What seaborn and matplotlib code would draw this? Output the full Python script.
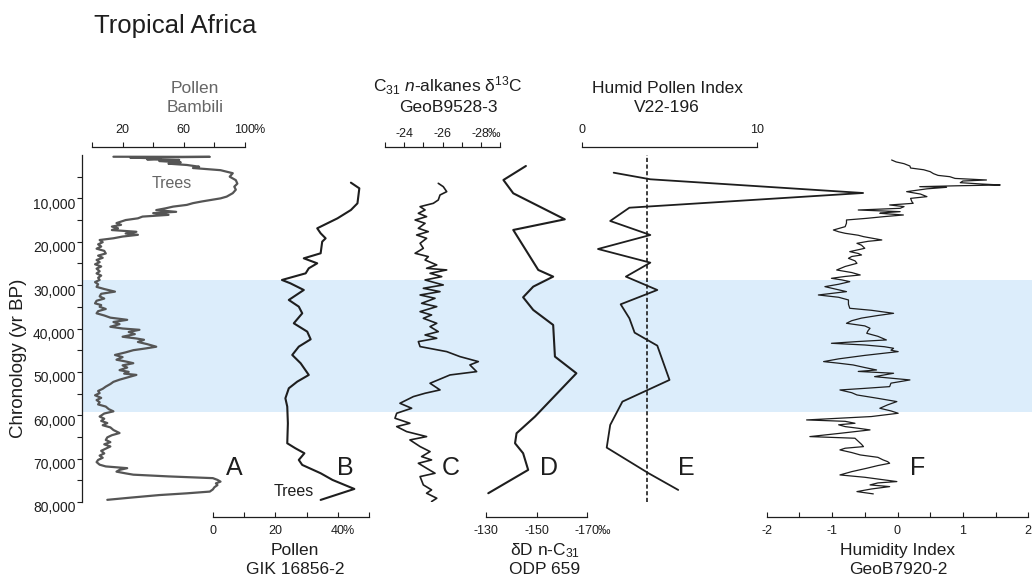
import numpy as np
import matplotlib
matplotlib.use("Agg")
import matplotlib.pyplot as plt
import seaborn as sns
from matplotlib.transforms import ScaledTranslation

# ---- data (ages in yr BP) ----
band_start, band_end = 28800, 59200

a_age = [400, 430, 600, 800, 1000, 1150, 1400, 1700, 2000, 2300,
         2700, 3000, 3500, 4200, 5000, 5800, 6600, 7300, 8000, 8800,
         9600, 10000, 10700, 11100, 11500, 11900, 12300, 12700, 13100, 13400,
         13800, 14200, 14600, 15000, 15700, 16100, 16500, 16900, 17300, 17700,
         18100, 18400, 18800, 19200, 19600, 20100, 20600, 21100, 21600, 22100,
         22700, 23200, 23700, 24200, 24700, 25200, 25700, 26200, 26800, 27300,
         27800, 28300, 28800, 29300, 29800, 30400, 30900, 31500, 32000, 32600,
         33100, 33600, 34200, 34600, 35000, 35500, 36000, 36500, 37000, 37500,
         38000, 38500, 39000, 39600, 40000, 40300, 40800, 41300, 41900, 42300,
         42600, 43100, 43600, 44200, 44600, 45000, 45500, 46100, 46600, 47200,
         47600, 48000, 48500, 49000, 49600, 50000, 50400, 50700, 51200, 51800,
         52300, 52800, 53400, 53900, 54400, 54900, 55400, 56000, 56500, 57000,
         57500, 58000, 58600, 59100, 59600, 60300, 60800, 61300, 61800, 62300,
         62800, 63400, 64100, 64600, 65100, 65700, 66200, 66700, 67200, 67700,
         68200, 68800, 69300, 69800, 70300, 70800, 71400, 71800, 72200, 72600,
         73000, 73400, 73700, 74100, 74500, 74900, 75300, 75700, 76100, 76600,
         77100, 77600, 78000, 78400, 79000, 79500]
a_trees = [14, 77, 25, 45, 36, 57, 44, 58, 50, 62,
           70, 66, 84, 92, 90, 94, 95, 93, 94, 92,
           88, 84, 72, 66, 62, 53, 48, 42, 55, 40,
           50, 33, 30, 22, 16, 19, 13, 17, 13, 29,
           22, 30, 20, 14, 5, 7, 4, 6, 3, 8,
           9, 4, 7, 3, 5, 2, 6, 3, 5, 3,
           6, 4, 5, 2, 4, 3, 8, 15, 6, 5,
           8, 3, 2, 6, 5, 9, 4, 3, 8, 12,
           23, 14, 18, 12, 20, 31, 24, 28, 20, 29,
           34, 30, 36, 42, 35, 27, 22, 15, 20, 16,
           22, 27, 20, 23, 18, 24, 21, 29, 24, 18,
           14, 12, 9, 7, 4, 5, 2, 6, 3, 5,
           4, 9, 11, 14, 8, 5, 8, 6, 10, 7,
           12, 14, 18, 13, 10, 9, 12, 8, 12, 9,
           6, 8, 5, 7, 4, 3, 5, 9, 23, 18,
           16, 22, 27, 50, 79, 82, 84, 81, 82, 80,
           79, 77, 62, 44, 25, 10]

b_age = [6377, 7683, 11140, 12680, 14600, 16900, 18050, 19210, 19980, 22660,
         23820, 24970, 26120, 27280, 28810, 29580, 31120, 33420, 34960, 36500,
         38800, 40720, 42490, 44180, 46100, 48020, 50710, 52250, 53780, 56090,
         58010, 61850, 66460, 67610, 68760, 70300, 71450, 73370, 74910, 76990,
         79520]
b_trees = [44.2, 46.9, 46.3, 44.2, 39.9, 33.4, 34.5, 36.1, 35.0, 34.5,
           29.1, 33.4, 30.7, 29.7, 22.1, 24.8, 29.1, 24.3, 27.5, 28.6,
           25.9, 30.2, 31.3, 27.5, 25.4, 28.1, 30.7, 27.0, 24.3, 23.2,
           23.8, 24.0, 23.8, 26.4, 29.3, 27.5, 28.6, 34.5, 38.3, 45.3,
           34.5]

c_age = [6530, 7300, 8450, 9220, 10370, 11140, 11910, 12670, 13440, 14210,
         14980, 15750, 16900, 17670, 18440, 19210, 20360, 21510, 22660, 23430,
         24200, 25350, 26120, 26500, 27270, 28040, 28810, 29960, 30730, 31500,
         32270, 33040, 34190, 34960, 36110, 36880, 37650, 38800, 39570, 40720,
         41490, 42250, 43020, 44170, 45330, 46480, 47630, 48400, 49940, 50710,
         52630, 54160, 54930, 55700, 56470, 57240, 58390, 59540, 60690, 61850,
         62610, 63770, 64920, 65690, 67220, 68380, 69530, 70300, 71070, 72220,
         73370, 74140, 76060, 77210, 77980, 79130, 79900]
c_d13c = [-25.78, -26.04, -26.22, -25.87, -25.78, -25.52, -24.83, -25.09, -24.74, -25.17,
          -24.57, -25.09, -24.74, -25.26, -24.65, -25.17, -24.83, -25.00, -24.57, -25.26,
          -25.09, -25.70, -25.17, -26.22, -25.35, -25.96, -25.09, -26.04, -25.00, -25.87,
          -24.83, -25.61, -24.91, -25.70, -24.83, -25.43, -25.00, -25.70, -25.35, -25.78,
          -25.09, -25.70, -24.74, -24.83, -26.22, -26.91, -27.87, -27.43, -27.78, -26.39,
          -25.35, -25.87, -25.09, -24.48, -24.13, -23.78, -24.39, -23.61, -23.52, -24.30,
          -23.61, -24.13, -25.17, -24.30, -24.83, -25.35, -24.91, -25.43, -24.74, -25.17,
          -25.61, -24.83, -25.00, -25.43, -25.17, -25.70, -25.43]

d_age = [2534, 5760, 8830, 14830, 17280, 26500, 28040, 30350, 32800, 35720,
         39180, 46480, 50320, 60310, 64150, 66460, 68760, 72600, 77980]
d_dD = [-145.8, -136.9, -140.8, -161.2, -140.8, -150.7, -156.6, -148.7, -144.7, -148.7,
        -156.6, -157.3, -165.8, -149.4, -142.1, -141.5, -144.7, -146.7, -130.9]

e_age = [4080, 5600, 8760, 12150, 15210, 18440, 21670, 24820, 28040, 31120,
         34420, 37650, 40960, 43950, 51860, 56860, 62240, 67460, 73370, 77220]
e_index = [1.8, 3.9, 16.1, 2.7, 1.6, 3.9, 0.9, 3.9, 2.5, 4.3,
           2.2, 2.7, 3.0, 4.3, 5.0, 2.3, 1.6, 1.4, 3.8, 5.5]
e_threshold = 3.7

f_age = [1150, 1600, 2000, 2540, 3000, 3400, 3840, 4300, 4700, 5000,
         5400, 5760, 6000, 6380, 6700, 6910, 7100, 7300, 7450, 7800,
         8450, 9000, 9600, 10000, 10760, 11140, 11520, 11900, 12290, 12500,
         12680, 13060, 13300, 13440, 13830, 14200, 14600, 14980, 15700, 16520,
         17290, 17700, 18050, 18500, 18820, 19590, 19900, 20360, 20800, 21510,
         21900, 22280, 22700, 23050, 23400, 23820, 24400, 24970, 25700, 26510,
         27100, 27660, 28000, 28430, 28800, 29200, 29800, 30350, 30900, 31500,
         31900, 32270, 32800, 33420, 34400, 35340, 35800, 36500, 37000, 37600,
         38200, 38800, 39400, 39950, 40500, 41100, 41800, 42640, 43000, 43410,
         43800, 44200, 44560, 45000, 45330, 46200, 47000, 47630, 48000, 48400,
         49000, 49560, 49900, 50320, 50700, 51100, 51860, 52600, 53400, 53800,
         54170, 54800, 55320, 56100, 56850, 57600, 58390, 59000, 59540, 60300,
         61080, 61400, 61850, 62200, 62620, 63000, 63380, 64200, 64920, 65300,
         66000, 66700, 67230, 67600, 67990, 68600, 69150, 69700, 70300, 70700,
         71070, 71600, 72220, 73000, 73760, 74300, 75290, 75600, 76060, 76450,
         77000, 77600, 78130]
f_humidity = [-0.09, -0.02, 0.10, 0.19, 0.20, 0.40, 0.50, 0.55, 0.62, 0.80,
              0.88, 1.36, 1.00, 0.96, 1.30, 1.57, 0.90, 0.34, 0.75, 0.45,
              0.14, 0.35, 0.45, 0.20, 0.22, 0.24, -0.12, 0.10, 0.04, -0.30,
              -0.60, 0.04, -0.20, -0.27, 0.09, -0.20, -0.47, -0.78, -0.78, -0.80,
              -0.98, -0.90, -0.80, -0.60, -0.52, -0.24, -0.45, -0.62, -0.55, -0.50,
              -0.62, -0.73, -0.60, -0.55, -0.70, -0.75, -0.65, -0.62, -0.80, -0.93,
              -0.70, -0.57, -0.80, -1.01, -0.85, -0.73, -0.90, -1.11, -0.95, -0.78,
              -1.00, -1.21, -0.90, -0.75, -0.75, -0.73, -0.40, -0.06, -0.30, -0.55,
              -0.70, -0.78, -0.50, -0.42, -0.45, -0.47, -0.30, -0.17, -0.60, -1.01,
              -0.50, -0.20, -0.06, -0.10, 0.01, -0.50, -0.90, -1.13, -0.90, -0.68,
              -0.50, -0.32, -0.60, -0.06, -0.20, -0.35, 0.19, -0.10, -0.12, -0.50,
              -0.88, -0.70, -0.62, -0.30, -0.01, -0.15, -0.27, -0.10, 0.01, -0.40,
              -1.39, -0.80, -0.65, -0.90, -0.80, -0.60, -0.42, -0.90, -1.34, -0.65,
              -0.60, -0.55, -0.52, -0.80, -0.88, -0.70, -0.57, -0.30, -0.22, -0.15,
              -0.12, -0.30, -0.47, -0.70, -0.88, -0.50, -0.01, -0.30, -0.42, -0.12,
              -0.40, -0.62, -0.37]

age_ticks = [10000, 20000, 30000, 40000, 50000, 60000, 70000, 80000]

# ---- style ----
sns.set_style("white")
plt.rcParams["font.family"] = ["Liberation Sans", "DejaVu Sans"]
plt.rcParams["mathtext.fontset"] = "custom"
plt.rcParams["mathtext.rm"] = "Liberation Sans"
plt.rcParams["mathtext.it"] = "Liberation Sans:italic"
INK = "#1e1e1e"
GREY = "#555555"

W, H = 1032, 578
fig = plt.figure(figsize=(W / 100, H / 100), dpi=100)
fig.patch.set_facecolor("white")

# plot area in pixels
L, R, T, B = 82, 1032, 155, 502
rect = [L / W, 1 - B / H, (R - L) / W, (B - T) / H]


def fx(px):
    return px / W


def fy(py):
    return 1 - py / H


# background axes: humid band + age axis
main = fig.add_axes(rect)
main.axhspan(band_start, band_end, color="#dcedfb", lw=0)
main.set_ylim(80000, 0)
main.set_xlim(0, 1)
main.set_xticks([])
for side in ["top", "right", "bottom"]:
    main.spines[side].set_visible(False)
main.spines["left"].set_color(INK)
main.spines["left"].set_linewidth(0.9)
main.set_yticks(age_ticks)
main.set_yticklabels([f"{t:,}" for t in age_ticks], fontsize=10, color=INK)
main.set_yticks([t - 5000 for t in age_ticks], minor=True)
main.tick_params(axis="y", which="both", direction="out", length=3.6, width=0.8,
                 color=INK, pad=1, left=True)
shift = ScaledTranslation(0, -0.05, fig.dpi_scale_trans)
for lab in main.get_yticklabels():
    lab.set_transform(lab.get_transform() + shift)
main.patch.set_visible(False)

fig.text(fx(19), fy(358), "Chronology (yr BP)", rotation=90, ha="center",
         va="center", fontsize=13.5, color=INK)
fig.text(fx(94), fy(33), "Tropical Africa", ha="left", va="baseline",
         fontsize=18.5, color=INK)


def panel(v_a, px_a, v_b, px_b):
    s = (px_b - px_a) / (v_b - v_a)
    ax = fig.add_axes(rect)
    ax.patch.set_visible(False)
    for sp in ax.spines.values():
        sp.set_visible(False)
    return ax, (v_a + (L - px_a) / s, v_a + (R - px_a) / s)


def scale_bar(ax, xlim, side, lo, hi, ticks, labels, pad):
    ax.set_xlim(*xlim)
    ax.set_ylim(80000, 0)
    ax.set_yticks([])
    ax.set(xlabel="", ylabel="")
    sp = ax.spines[side]
    sp.set_visible(True)
    sp.set_bounds(lo, hi)
    sp.set_color(INK)
    sp.set_linewidth(0.9)
    off = (T - 147) if side == "top" else (517 - B)
    sp.set_position(("outward", off * 0.72))
    ax.xaxis.set_ticks_position(side)
    ax.set_xticks(ticks)
    ax.set_xticklabels(labels)
    ax.tick_params(axis="x", direction="out" if side == "top" else "in",
                   length=3.6, width=0.8, color=INK, pad=pad, labelsize=9,
                   labelcolor=INK)


# A: Bambili pollen
ax_a, lim = panel(0, 92, 100, 245)
sns.lineplot(x=a_trees, y=a_age, sort=False, estimator=None, color=GREY,
             lw=1.6, ax=ax_a)
scale_bar(ax_a, lim, "top", 0, 100, [0, 20, 40, 60, 80, 100],
          ["", "20", "", "60", "", "100"], 4)

# B: GIK 16856-2 pollen
ax_b, lim = panel(0, 213, 50, 369)
sns.lineplot(x=b_trees, y=b_age, sort=False, estimator=None, color=INK,
             lw=1.5, ax=ax_b)
scale_bar(ax_b, lim, "bottom", 0, 50, [0, 10, 20, 30, 40, 50],
          ["0", "", "20", "", "40", ""], 6)

# C: n-alkane d13C
ax_c, lim = panel(-23, 385, -29, 500)
sns.lineplot(x=c_d13c, y=c_age, sort=False, estimator=None, color=INK,
             lw=1.2, ax=ax_c)
scale_bar(ax_c, lim, "top", -23, -29, [-23, -24, -25, -26, -27, -28, -29],
          ["", "-24", "", "-26", "", "-28", ""], 1.5)

# D: dD n-C31
ax_d, lim = panel(-130, 486, -170, 587)
sns.lineplot(x=d_dD, y=d_age, sort=False, estimator=None, color=INK,
             lw=1.5, ax=ax_d)
scale_bar(ax_d, lim, "bottom", -130, -170, [-130, -150, -170],
          ["-130", "-150", "-170"], 6)

# E: humid pollen index
ax_e, lim = panel(0, 582.3, 10, 756.7)
sns.lineplot(x=e_index, y=e_age, sort=False, estimator=None, color=INK,
             lw=1.3, ax=ax_e)
ax_e.axvline(e_threshold, color=INK, lw=1.2, ls=(0, (2.5, 1.5)))
scale_bar(ax_e, lim, "top", 0, 10, [0, 10], ["0", "10"], 4)

# F: humidity index
ax_f, lim = panel(-2, 766.7, 2, 1028.3)
sns.lineplot(x=f_humidity, y=f_age, sort=False, estimator=None, color=INK,
             lw=0.9, ax=ax_f)
scale_bar(ax_f, lim, "bottom", -2, 2, list(np.arange(-2, 2.01, 0.5)),
          ["-2", "", "-1", "", "0", "", "1", "", "2"], 6)

# unit signs glued after the last tick number
fig.canvas.draw()
renderer = fig.canvas.get_renderer()


def add_unit(ax, side, value, unit):
    for tick in ax.xaxis.get_major_ticks():
        if abs(tick.get_loc() - value) < 1e-6:
            lab = tick.label2 if side == "top" else tick.label1
    bb = lab.get_window_extent(renderer)
    x = (bb.x1 - 2) / W
    if side == "top":
        fig.text(x, bb.y0 / H, unit, ha="left", va="bottom", fontsize=9, color=INK)
    else:
        fig.text(x, bb.y1 / H, unit, ha="left", va="top", fontsize=9, color=INK)


add_unit(ax_a, "top", 100, "%")
add_unit(ax_b, "bottom", 40, "%")
add_unit(ax_c, "top", -28, "‰")
add_unit(ax_d, "bottom", -170, "‰")

# panel titles
fs = 12.5
fig.text(fx(195), fy(93), "Pollen", ha="center", va="baseline", fontsize=fs, color="#666666")
fig.text(fx(195), fy(112), "Bambili", ha="center", va="baseline", fontsize=fs, color="#666666")
fig.text(fx(448), fy(92), r"C$_{31}$ $n$-alkanes δ$^{13}$C", ha="center", va="baseline",
         fontsize=fs, color=INK)
fig.text(fx(448), fy(112), "GeoB9528-3", ha="center", va="baseline", fontsize=fs, color=INK)
fig.text(fx(667), fy(93), "Humid Pollen Index", ha="center", va="baseline", fontsize=fs, color=INK)
fig.text(fx(667), fy(112), "V22-196", ha="center", va="baseline", fontsize=fs, color=INK)

fig.text(fx(295), fy(555), "Pollen", ha="center", va="baseline", fontsize=fs, color=INK)
fig.text(fx(295), fy(574), "GIK 16856-2", ha="center", va="baseline", fontsize=fs, color=INK)
fig.text(fx(545), fy(555), r"δD n-C$_{31}$", ha="center", va="baseline", fontsize=fs, color=INK)
fig.text(fx(545), fy(574), "ODP 659", ha="center", va="baseline", fontsize=fs, color=INK)
fig.text(fx(898), fy(555), "Humidity Index", ha="center", va="baseline", fontsize=fs, color=INK)
fig.text(fx(898), fy(574), "GeoB7920-2", ha="center", va="baseline", fontsize=fs, color=INK)

# panel letters and annotations
for letter, px in zip("ABCDEF", [234, 345, 451, 549, 686, 918]):
    fig.text(fx(px), fy(468), letter, ha="center", va="center", fontsize=18, color=INK)
fig.text(fx(172), fy(183), "Trees", ha="center", va="center", fontsize=11.5, color="#666666")
fig.text(fx(294), fy(491), "Trees", ha="center", va="center", fontsize=11.5, color=INK)

fig.savefig("out.png", dpi=100)
